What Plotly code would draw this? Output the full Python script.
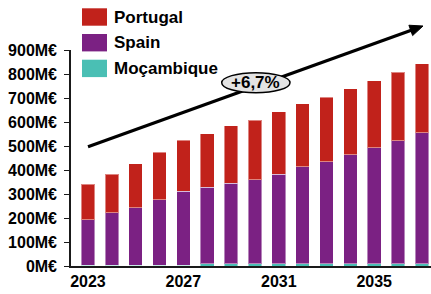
import plotly.graph_objects as go

# ---------------- data ----------------
years = list(range(2023, 2038))
mozambique = [4, 4, 4, 4, 4, 10, 10, 10, 10, 10, 10, 10, 10, 10, 10]
spain = [189, 218, 239, 273, 307, 318, 335, 350, 373, 403, 425, 454, 483, 512, 546]
portugal = [147, 161, 184, 197, 213, 224, 240, 248, 259, 264, 268, 274, 278, 286, 286]
legend_names = ["Portugal", "Spain", "Moçambique"]
x_tick_years = [2023, 2027, 2031, 2035]
y_tick_values = [0, 100, 200, 300, 400, 500, 600, 700, 800, 900]
y_tick_labels = ["0M€", "100M€", "200M€", "300M€", "400M€", "500M€", "600M€", "700M€", "800M€", "900M€"]
growth_label = "+6,7%"

# ---------------- style ----------------
COL = {"Portugal": "#C1221B", "Spain": "#7B2183", "Moçambique": "#4ABFB4"}
W, H = 431, 294
ML, MR, MT, MB = 71, 0, 50, 28
PW, PH = W - ML - MR, H - MT - MB
FONT = "Liberation Sans, Arial, sans-serif"


def px(x):
    return (x - ML) / PW


def py(y):
    return (H - MB - y) / PH


fig = go.Figure()
for name, vals in [("Moçambique", mozambique), ("Spain", spain), ("Portugal", portugal)]:
    fig.add_trace(go.Bar(
        x=years, y=vals, name=name, width=0.57,
        marker=dict(color=COL[name], line=dict(color="rgba(255,255,255,0.45)", width=1)),
        showlegend=False,
    ))

shapes = []
annotations = []

# custom legend (large swatches)
for i, name in enumerate(legend_names):
    top = 8.3 + 25.7 * i
    shapes.append(dict(type="rect", xref="paper", yref="paper",
                       x0=px(82), x1=px(107), y0=py(top + 17.4), y1=py(top),
                       fillcolor=COL[name], line=dict(width=0)))
    annotations.append(dict(xref="paper", yref="paper", x=px(112), y=py(top + 8.7),
                            text=name, showarrow=False, xanchor="left", yanchor="middle",
                            font=dict(family=FONT, size=17, color="black", weight="bold")))

# growth arrow (line + head), drawn before the ellipse
tail = (88, 146.7)
tip = (423, 26)
dx, dy = tip[0] - tail[0], tip[1] - tail[1]
L = (dx * dx + dy * dy) ** 0.5
ux, uy = dx / L, dy / L
nx, ny = -uy, ux
hl, hw = 13, 5.5
bx, by = tip[0] - hl * ux, tip[1] - hl * uy
shapes.append(dict(type="line", xref="paper", yref="paper",
                   x0=px(tail[0]), y0=py(tail[1]), x1=px(bx + 2 * ux), y1=py(by + 2 * uy),
                   line=dict(color="black", width=3.2)))
path = "M {} {} L {} {} L {} {} Z".format(
    px(tip[0]), py(tip[1]),
    px(bx + hw * nx), py(by + hw * ny),
    px(bx - hw * nx), py(by - hw * ny))
shapes.append(dict(type="path", xref="paper", yref="paper", path=path,
                   fillcolor="black", line=dict(color="black", width=1)))

# ellipse label
shapes.append(dict(type="circle", xref="paper", yref="paper",
                   x0=px(221.7), x1=px(290), y0=py(92.7), y1=py(72.7),
                   fillcolor="#E3E3E3", line=dict(color="black", width=1.5)))
annotations.append(dict(xref="paper", yref="paper", x=px(256), y=py(82.7),
                        text=growth_label, showarrow=False, xanchor="center", yanchor="middle",
                        font=dict(family=FONT, size=17, color="black", weight="bold")))

fig.update_layout(
    barmode="stack",
    width=W, height=H,
    margin=dict(l=ML, r=MR, t=MT, b=MB, pad=0, autoexpand=False),
    paper_bgcolor="white", plot_bgcolor="white",
    shapes=shapes, annotations=annotations,
    bargap=0.43,
)
fig.update_xaxes(
    range=[2022.29, 2037.38], tickvals=x_tick_years, ticktext=[str(v) for v in x_tick_years],
    showline=True, linecolor="#1a1a1a", linewidth=1.6, ticks="", showgrid=False, zeroline=False,
    automargin=False,
    tickfont=dict(family=FONT, size=16, color="black", weight="bold"),
)
fig.update_yaxes(
    range=[0, 900], tickvals=y_tick_values, ticktext=y_tick_labels,
    showline=True, linecolor="#1a1a1a", linewidth=1.6, ticks="outside", ticklen=5,
    tickcolor="#1a1a1a", tickwidth=1.4, showgrid=False, zeroline=False,
    ticklabelstandoff=4, automargin=False,
    tickfont=dict(family=FONT, size=16, color="black", weight="bold"),
)

fig.write_html("out.html", config={"displayModeBar": False},
               post_script="document.body.style.margin='0px';")
